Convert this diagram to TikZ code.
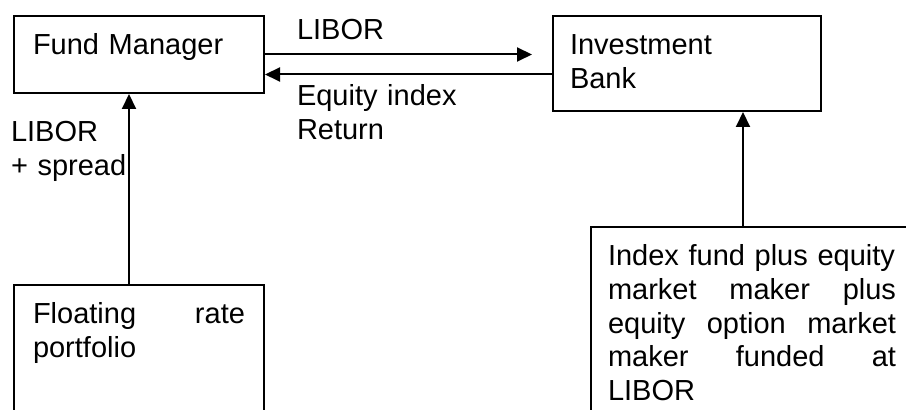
\documentclass[tikz,border=0pt]{standalone}
\usepackage{fontspec}
\setmainfont{Liberation Sans}
\usetikzlibrary{arrows.meta}
\def\lineW{1pt}
\def\tipLen{7.5pt}
\def\tipWid{7pt}
\def\firstBase{19.5pt}

\begin{document}
\begin{tikzpicture}[
    x=0.5pt, y=-0.5pt,
    line width=\lineW,
    >={Triangle[length=\tipLen,width=\tipWid]},
    every node/.style={inner sep=0pt, font=\fontsize{14.5pt}{16.8pt}\selectfont},
    box/.style={draw, anchor=north west, align=left, inner xsep=9.5pt, text height=\firstBase},
    lab/.style={anchor=base west, align=left}
]
\useasboundingbox (0,0) rectangle (906,410);
\clip (0,0) rectangle (906,410);

% the four parties
\node[box, text width=106pt, text depth=19pt] (fund) at (13,15) {Fund Manager};
\node[box, inner xsep=8.5pt, text width=117pt, text depth=28pt] (bank) at (552,15) {Investment\\Bank};
\node[box, text width=106pt, text depth=63.5pt] (float) at (13,284) {Floating\hfill rate\\portfolio};
\node[box, inner xsep=8.5pt, text width=144pt, text depth=97.5pt] (index) at (590,226)
    {Index fund plus equity\\market\hfill maker\hfill plus\\equity\hfill option\hfill market\\maker\hfill funded\hfill at\\LIBOR};

% swap legs
\draw[->] (fund.east) -- ([xshift=-10pt]fund.east -| bank.west);
\draw[->] ([yshift=-10pt]bank.west |- fund.east) -- ([yshift=-10pt]fund.east);
\node[lab] (libor) at (296,40) {LIBOR};
\node[lab, text width=90pt] (eqret) at (296,106) {Equity index\\Return};

% funding
\draw[->] ([xshift=-5pt]float.north) -- ([xshift=-5pt]float.north |- fund.south);
\node[lab, text width=60pt] (spread) at (10,142) {LIBOR\\+ spread};
\draw[->] ([xshift=76.5pt]index.north west) -- ([xshift=76.5pt]index.north west |- bank.south);
\end{tikzpicture}
\end{document}
